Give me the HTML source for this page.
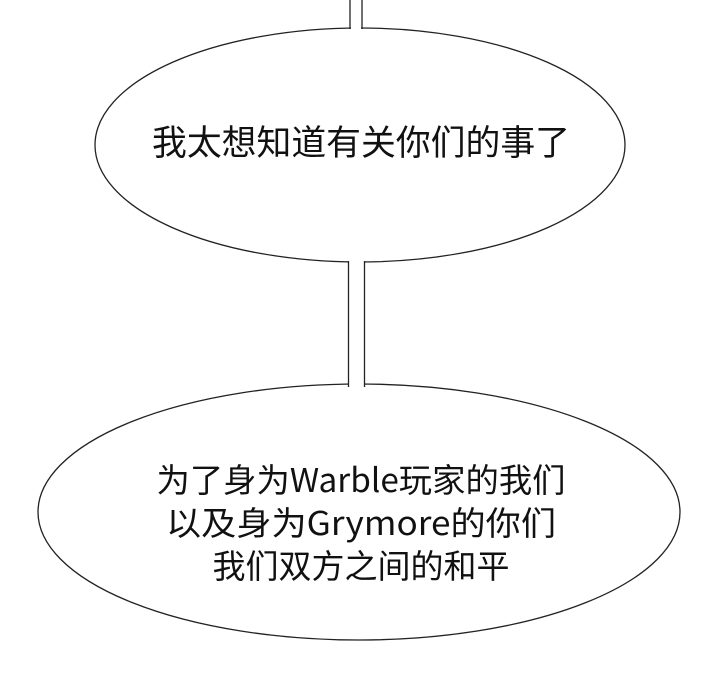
<!DOCTYPE html>
<html><head><style>
body{margin:0;background:#fff;}
svg{display:block;}
text{font-family:"Noto Sans CJK SC","Liberation Sans",sans-serif;fill:#111;}
</style></head><body>
<svg width="720" height="700" viewBox="0 0 720 700">
<rect width="720" height="700" fill="#fff"/>
<ellipse cx="360" cy="145" rx="265" ry="117" fill="#fff" stroke="#222" stroke-width="1.3"/>
<ellipse cx="359" cy="512" rx="321" ry="128" fill="#fff" stroke="#222" stroke-width="1.3"/>
<rect x="349" y="250" width="15" height="145" fill="#fff"/>
<rect x="351" y="0" width="10" height="40" fill="#fff"/>
<line x1="348.5" y1="261" x2="348.5" y2="387" stroke="#222" stroke-width="1.3"/>
<line x1="364.5" y1="261" x2="364.5" y2="387" stroke="#222" stroke-width="1.3"/>
<line x1="350" y1="0" x2="350" y2="29" stroke="#222" stroke-width="1.3"/>
<line x1="362" y1="0" x2="362" y2="29" stroke="#222" stroke-width="1.3"/>
<text x="361" y="155" font-size="35" text-anchor="middle" textLength="418" lengthAdjust="spacingAndGlyphs">我太想知道有关你们的事了</text>
<text x="361" y="492" font-size="33" text-anchor="middle" textLength="409" lengthAdjust="spacingAndGlyphs">为了身为Warble玩家的我们</text>
<text x="361" y="535" font-size="33" text-anchor="middle" textLength="390" lengthAdjust="spacingAndGlyphs">以及身为Grymore的你们</text>
<text x="361" y="578" font-size="33" text-anchor="middle" textLength="297" lengthAdjust="spacingAndGlyphs">我们双方之间的和平</text>
</svg>
</body></html>
